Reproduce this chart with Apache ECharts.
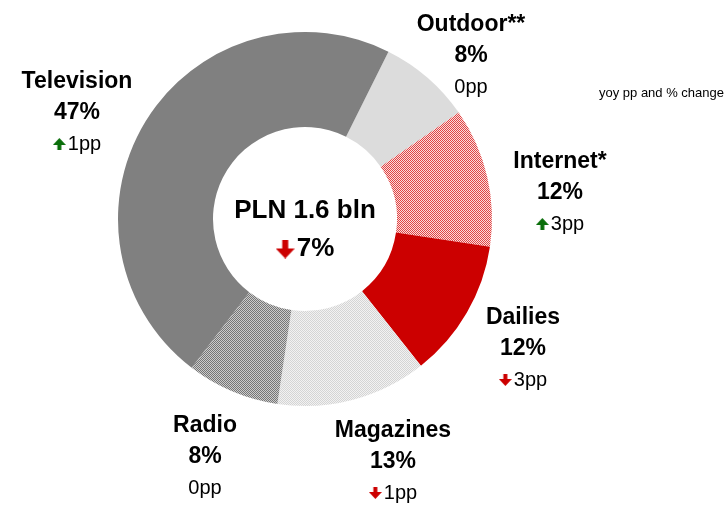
<!DOCTYPE html>
<html>
<head>
<meta charset="utf-8">
<script src="https://cdn.jsdelivr.net/npm/echarts@6/dist/echarts.min.js"></script>
<style>
  html, body { margin: 0; padding: 0; background: #ffffff; }
  #chart { width: 726px; height: 505px; }
</style>
</head>
<body>
<div id="chart"></div>
<script>
// Advertising market split by medium, share of spend and yoy change
const categories = ['Outdoor**', 'Internet*', 'Dailies', 'Magazines', 'Radio', 'Television'];
const shares = [8, 12, 12, 13, 8, 47];          // % of total spend
const changesPp = [0, 3, -3, -1, 0, 1];          // yoy change in percentage points
const totalLabel = 'PLN 1.6 bln';
const totalChangePct = -7;                       // yoy % change of total
const noteText = 'yoy pp and % change';

const UP_GREEN = '#0a6e0a';
const DOWN_RED = '#cc0000';

// Small repeating checker tiles for the dotted slices
function checker(a, b) {
  const c = document.createElement('canvas');
  c.width = 2; c.height = 2;
  const g = c.getContext('2d');
  g.fillStyle = b; g.fillRect(0, 0, 2, 2);
  g.fillStyle = a; g.fillRect(0, 0, 1, 1); g.fillRect(1, 1, 1, 1);
  return { image: c, repeat: 'repeat' };
}

// Solid block arrow drawn on a canvas, used as an inline rich-text glyph
function arrow(color, up, w, h) {
  const c = document.createElement('canvas');
  c.width = w; c.height = h;
  const g = c.getContext('2d');
  const head = Math.round(h * 0.55);
  const stem = Math.max(4, Math.round(w * 0.32));
  const sx = (w - stem) / 2;
  g.fillStyle = color;
  g.beginPath();
  if (up) {
    g.moveTo(w / 2, 0); g.lineTo(w, head); g.lineTo(sx + stem, head);
    g.lineTo(sx + stem, h); g.lineTo(sx, h); g.lineTo(sx, head); g.lineTo(0, head);
  } else {
    g.moveTo(w / 2, h); g.lineTo(w, h - head); g.lineTo(sx + stem, h - head);
    g.lineTo(sx + stem, 0); g.lineTo(sx, 0); g.lineTo(sx, h - head); g.lineTo(0, h - head);
  }
  g.closePath();
  g.fill();
  return c;
}

const sliceColors = {
  'Outdoor**': '#dcdcdc',
  'Internet*': checker('#e04545', '#fbdcdc'),
  'Dailies': '#cc0000',
  'Magazines': checker('#d4d4d4', '#f2f2f2'),
  'Radio': checker('#767676', '#cccccc'),
  'Television': '#808080'
};

// Label anchor points (centre of each three-line block)
const labelAnchors = {
  'Outdoor**': [471, 56],
  'Internet*': [560, 193],
  'Dailies': [523, 349],
  'Magazines': [393, 462],
  'Radio': [205, 457],
  'Television': [77, 113]
};

function changeLine(v) {
  if (v > 0) return '{up|}{gap|}{chg|' + v + 'pp}';
  if (v < 0) return '{down|}{gap|}{chg|' + Math.abs(v) + 'pp}';
  return '{chg|' + v + 'pp}';
}

const data = categories.map((name, i) => ({
  name: name,
  value: shares[i],
  itemStyle: { color: sliceColors[name] },
  label: {
    formatter: '{name|' + name + '}\n{pct|' + shares[i] + '%}\n' + changeLine(changesPp[i])
  }
}));

const boldText = { fontFamily: 'Liberation Sans', fontWeight: 'bold', fontSize: 23, color: '#000', lineHeight: 31 };

const chart = echarts.init(document.getElementById('chart'), null, { renderer: 'canvas' });

chart.setOption({
  animation: false,
  backgroundColor: '#ffffff',
  textStyle: { fontFamily: 'Liberation Sans, Arial, sans-serif' },
  title: {
    text: '{t|' + totalLabel + '}\n' + (totalChangePct < 0 ? '{down|}' : '{up|}') + '{gap|}{v|' + Math.abs(totalChangePct) + '%}',
    left: 305,
    top: 192,
    textAlign: 'center',
    padding: 0,
    textStyle: {
      fontFamily: 'Liberation Sans',
      fontWeight: 'bold',
      fontSize: 26,
      color: '#000',
      lineHeight: 38,
      rich: {
        t: { fontFamily: 'Liberation Sans', fontWeight: 'bold', fontSize: 26, color: '#000', lineHeight: 38 },
        v: { fontFamily: 'Liberation Sans', fontWeight: 'bold', fontSize: 26, color: '#000', lineHeight: 38 },
        gap: { width: 2, height: 10 },
        down: { width: 19, height: 19, backgroundColor: { image: arrow(DOWN_RED, false, 19, 19) } },
        up: { width: 19, height: 19, backgroundColor: { image: arrow(UP_GREEN, true, 19, 19) } }
      }
    }
  },
  series: [{
    type: 'pie',
    center: [305, 219],
    radius: [92, 187],
    startAngle: 63.5,
    clockwise: true,
    silent: true,
    itemStyle: { borderWidth: 0 },
    labelLine: { show: false },
    label: {
      show: true,
      position: 'outside',
      overflow: 'none',
      width: 200,
      align: 'center',
      rich: {
        name: boldText,
        pct: boldText,
        chg: { fontFamily: 'Liberation Sans', fontSize: 20, color: '#000', lineHeight: 31 },
        gap: { width: 2, height: 10 },
        up: { width: 13, height: 12, backgroundColor: { image: arrow(UP_GREEN, true, 13, 12) } },
        down: { width: 13, height: 12, backgroundColor: { image: arrow(DOWN_RED, false, 13, 12) } }
      }
    },
    labelLayout: function (p) {
      const pos = labelAnchors[categories[p.dataIndex]];
      return { x: pos[0], y: pos[1], align: 'center', verticalAlign: 'middle' };
    },
    data: data
  }],
  graphic: [
    {
      type: 'text',
      x: 724,
      y: 93,
      style: {
        text: noteText,
        align: 'right',
        verticalAlign: 'middle',
        fontFamily: 'Liberation Sans',
        fontSize: 13,
        fill: '#000'
      }
    }
  ]
});
</script>
</body>
</html>
